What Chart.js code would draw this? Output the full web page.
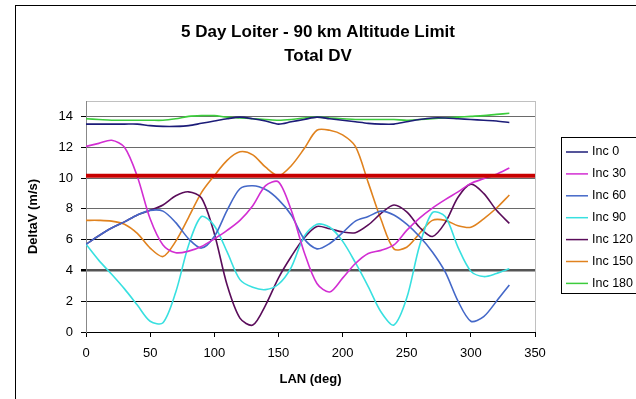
<!DOCTYPE html>
<html>
<head>
<meta charset="utf-8">
<script src="https://cdn.jsdelivr.net/npm/chart.js@4"></script>
<style>
  html, body { margin: 0; padding: 0; background: #fff; overflow: hidden; }
  #wrap { position: relative; width: 636px; height: 399px; }
  #frame { position: absolute; left: 15px; top: 5px; width: 700px; height: 500px; border: 1px solid #000; }
  canvas { position: absolute; left: 0; top: 0; }
</style>
</head>
<body>
<div id="wrap">
  <div id="frame"></div>
  <canvas id="chart" width="636" height="399"></canvas>
</div>
<script>
// Data
const lan = [0, 10, 20, 30, 40, 50, 60, 70, 80, 90, 100, 110, 120, 130, 140, 150, 160,
  170, 180, 190, 200, 210, 220, 230, 240, 250, 260, 270, 280, 290, 300, 310, 320, 330];

const inc0 = [13.5, 13.5, 13.5, 13.5, 13.5, 13.4, 13.35, 13.35, 13.4, 13.55, 13.7, 13.85, 13.95, 13.85, 13.7, 13.5, 13.65,
  13.8, 13.95, 13.85, 13.75, 13.65, 13.55, 13.5, 13.5, 13.65, 13.8, 13.9, 13.9, 13.85, 13.8, 13.75, 13.7, 13.6];
const inc30 = [12.05, 12.25, 12.45, 12.0, 10.1, 7.35, 5.65, 5.15, 5.25, 5.55, 6.05, 6.6, 7.25, 8.2, 9.5, 9.75, 7.9,
  5.2, 3.15, 2.6, 3.5, 4.45, 5.1, 5.3, 5.65, 6.6, 7.4, 8.05, 8.6, 9.1, 9.65, 9.95, 10.25, 10.65];
const inc60 = [5.7, 6.25, 6.75, 7.15, 7.6, 7.9, 7.85, 7.1, 6.05, 5.45, 6.2, 7.9, 9.3, 9.5, 9.25, 8.6, 7.6,
  6.05, 5.4, 5.75, 6.45, 7.2, 7.5, 7.85, 7.6, 7.0, 6.2, 5.2, 3.9, 2.0, 0.7, 1.0, 2.0, 3.05];
const inc90 = [5.7, 4.65, 3.75, 2.8, 1.75, 0.7, 0.6, 2.6, 5.65, 7.5, 6.9, 5.2, 3.4, 2.9, 2.75, 3.1, 4.2,
  6.2, 7.0, 6.8, 5.9, 4.5, 2.95, 1.3, 0.45, 2.2, 5.6, 7.75, 7.5, 5.5, 3.95, 3.6, 3.8, 4.1];
const inc120 = [5.7, 6.25, 6.75, 7.15, 7.6, 7.9, 8.25, 8.85, 9.1, 8.7, 6.4, 3.05, 0.9, 0.45, 1.75, 3.5, 4.9,
  6.1, 6.85, 6.7, 6.5, 6.45, 6.95, 7.7, 8.25, 7.8, 6.8, 6.2, 7.1, 8.75, 9.6, 9.0, 7.9, 7.05];
const inc150 = [7.25, 7.25, 7.2, 7.0, 6.4, 5.45, 4.9, 5.9, 7.45, 9.05, 10.15, 11.15, 11.7, 11.5, 10.7, 10.15, 10.8,
  11.9, 13.1, 13.1, 12.8, 12.05, 9.7, 7.3, 5.4, 5.5, 6.4, 7.25, 7.25, 6.9, 6.8, 7.35, 8.05, 8.9];
const inc180 = [13.85, 13.8, 13.75, 13.75, 13.75, 13.75, 13.75, 13.85, 14.0, 14.05, 14.05, 13.95, 13.9, 13.85, 13.8, 13.75, 13.8,
  13.9, 13.95, 13.9, 13.85, 13.8, 13.8, 13.8, 13.8, 13.75, 13.8, 13.85, 13.9, 13.95, 14.0, 14.05, 14.13, 14.2];

const seriesNames = ['Inc 0', 'Inc 30', 'Inc 60', 'Inc 90', 'Inc 120', 'Inc 150', 'Inc 180'];
const seriesValues = [inc0, inc30, inc60, inc90, inc120, inc150, inc180];
const seriesColors = ['#1c1c78', '#d22ed2', '#4468c8', '#38e0e0', '#5a0c5a', '#e0821e', '#3ccc3c'];

const titleLines = ['5 Day Loiter - 90 km Altitude Limit', 'Total DV'];
const limitValue = 10.15;
const limitRange = [0, 350];
const xTicks = [0, 50, 100, 150, 200, 250, 300, 350];
const yTicks = [0, 2, 4, 6, 8, 10, 12, 14];

const FONT = '"Liberation Sans", Arial, sans-serif';

// plot area border (light gray, like Excel) + chart title centred on the page
const plotFrame = {
  id: 'plotFrame',
  beforeDraw(chart) {
    const { ctx, chartArea: a } = chart;
    ctx.save();
    ctx.strokeStyle = '#c0c0c0';
    ctx.lineWidth = 1;
    ctx.strokeRect(Math.round(a.left) + 0.5, Math.round(a.top) + 0.5, Math.round(a.right - a.left), Math.round(a.bottom - a.top));
    ctx.fillStyle = '#000';
    ctx.font = 'bold 17px ' + FONT;
    ctx.textAlign = 'center';
    ctx.textBaseline = 'middle';
    titleLines.forEach((t, i) => ctx.fillText(t, 318, 32 + i * 24));
    ctx.restore();
  }
};

// boxed legend on the right
const sideLegend = {
  id: 'sideLegend',
  afterDraw(chart) {
    const ctx = chart.ctx;
    ctx.save();
    ctx.strokeStyle = '#000';
    ctx.lineWidth = 1;
    ctx.strokeRect(561.5, 137.5, 100, 156);
    ctx.font = '12.5px ' + FONT;
    ctx.textBaseline = 'middle';
    ctx.textAlign = 'left';
    seriesNames.forEach((name, i) => {
      const y = 152 + i * 21.9;
      ctx.strokeStyle = seriesColors[i];
      ctx.lineWidth = 1.5;
      ctx.beginPath();
      ctx.moveTo(566, y);
      ctx.lineTo(588, y);
      ctx.stroke();
      ctx.fillStyle = '#000';
      ctx.fillText(name, 592, y);
    });
    ctx.restore();
  }
};

const datasets = seriesNames.map((name, i) => ({
  label: name,
  data: lan.map((x, j) => ({ x: x, y: seriesValues[i][j] })),
  borderColor: seriesColors[i],
  backgroundColor: seriesColors[i],
  borderWidth: 1.6,
  pointRadius: 0,
  tension: 0.3,
  fill: false,
  order: 2
}));

datasets.push({
  label: 'Limit',
  data: limitRange.map(x => ({ x: x, y: limitValue })),
  borderColor: '#c80000',
  borderWidth: 4,
  pointRadius: 0,
  fill: false,
  order: 1
});

function gridColor(ctx) {
  const v = ctx.tick && ctx.tick.value;
  if (v === 4) return '#555555';
  if (v === 2 || v === 6) return '#111111';
  return '#6a6a6a';
}

new Chart(document.getElementById('chart').getContext('2d'), {
  type: 'line',
  data: { datasets },
  plugins: [plotFrame, sideLegend],
  options: {
    responsive: false,
    animation: false,
    layout: { padding: { left: 14, right: 101, top: 101, bottom: 0 } },
    plugins: {
      legend: { display: false },
      tooltip: { enabled: false },
      title: { display: false }
    },
    scales: {
      x: {
        type: 'linear',
        min: 0,
        max: 350,
        afterBuildTicks: axis => { axis.ticks = xTicks.map(v => ({ value: v })); },
        afterFit: scale => { scale.height = 67; },
        ticks: { color: '#000', font: { family: FONT, size: 13 }, padding: 9, maxRotation: 0 },
        grid: { drawOnChartArea: false, drawTicks: true, tickLength: 5, tickColor: '#000' },
        border: { color: '#000', width: 1 },
        title: {
          display: true,
          text: 'LAN (deg)',
          color: '#000',
          font: { family: FONT, size: 13, weight: 'bold' },
          padding: { top: 0, bottom: 12 }
        }
      },
      y: {
        min: 0,
        max: 15,
        afterBuildTicks: axis => { axis.ticks = yTicks.map(v => ({ value: v })); },
        afterFit: scale => { scale.width = 72; },
        ticks: { color: '#000', font: { family: FONT, size: 13 }, padding: 8 },
        grid: { color: gridColor, lineWidth: ctx => (ctx.tick && ctx.tick.value === 4 ? 2.5 : 1), tickLength: 5, tickColor: '#000' },
        border: { color: '#888', width: 1 },
        title: {
          display: true,
          text: 'DeltaV (m/s)',
          color: '#000',
          font: { family: FONT, size: 13, weight: 'bold' },
          padding: { top: 12, bottom: 0 }
        }
      }
    }
  }
});
</script>
</body>
</html>
